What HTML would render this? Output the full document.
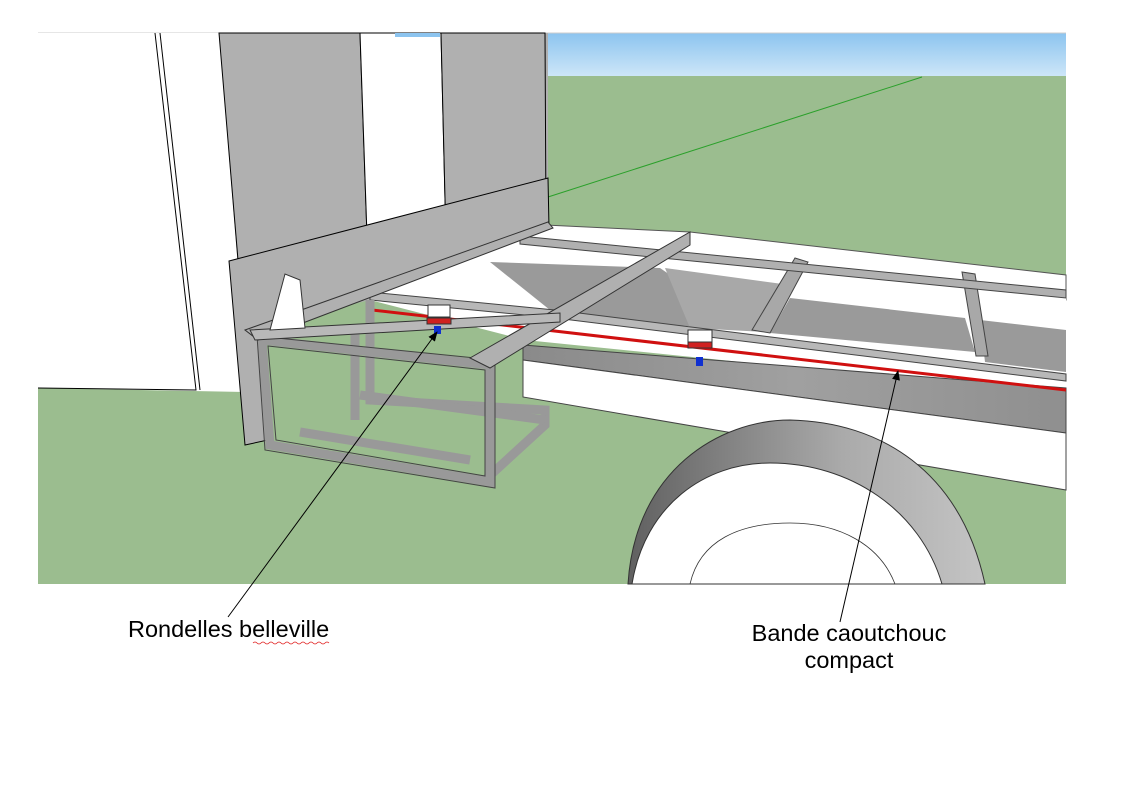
<!DOCTYPE html>
<html><head><meta charset="utf-8"><style>
html,body{margin:0;padding:0;background:#fff;width:1123px;height:794px;overflow:hidden}
svg{position:absolute;left:0;top:0}
text{font-family:"Liberation Sans",Arial,sans-serif;font-size:23.5px;fill:#000}
</style></head><body>
<svg width="1123" height="794" viewBox="0 0 1123 794">
<defs>
<linearGradient id="sky" x1="0" y1="0" x2="0" y2="1"><stop offset="0" stop-color="#8cc4ef"/><stop offset="1" stop-color="#cde6f8"/></linearGradient>
<linearGradient id="tire" x1="0" y1="0" x2="1" y2="0"><stop offset="0" stop-color="#606060"/><stop offset="0.6" stop-color="#aaaaaa"/><stop offset="1" stop-color="#c4c4c4"/></linearGradient>
<linearGradient id="beam" x1="0" y1="0" x2="1" y2="0"><stop offset="0" stop-color="#8a8a8a"/><stop offset="0.5" stop-color="#a0a0a0"/><stop offset="1" stop-color="#8f8f8f"/></linearGradient>
<marker id="ar" markerWidth="10" markerHeight="10" refX="9" refY="5" orient="auto" markerUnits="userSpaceOnUse"><path d="M0,1 L10,5 L0,9 Z" fill="#000"/></marker>
</defs>
<rect x="38" y="33" width="1028" height="551" fill="#9bbd8f"/>
<rect x="545" y="33" width="521" height="43" fill="url(#sky)"/>
<line x1="38" y1="33" x2="1066" y2="33" stroke="#ccc"/>
<line x1="548" y1="197" x2="922" y2="77" stroke="#2aa02a" stroke-width="1"/>
<!-- cab white -->
<polygon points="38,33 230,33 245,392 38,388" fill="#fff"/>
<polyline points="155,33 196,390 38,388" fill="none" stroke="#000"/>
<line x1="160" y1="33" x2="200" y2="390" stroke="#000"/>
<!-- backing fill -->
<polygon points="219,33 548,33 548,240 370,300 243,330" fill="#b0b0b0"/>
<polygon points="219,33 360,33 368,265 243,320" fill="#b0b0b0" stroke="#000"/>
<polygon points="360,33 441,33 446,240 368,265" fill="#fff" stroke="#000"/>
<polygon points="441,33 545,33 546,220 446,240" fill="#b0b0b0" stroke="#000"/>
<rect x="395" y="33" width="45" height="4" fill="#8cc4ef"/>
<polygon points="229,261 548,178 549,228 265,335 268,440 245,445" fill="#b0b0b0" stroke="#000"/>
<!-- chassis right area -->
<polygon points="545,225 690,232 1066,275 1066,300 548,240" fill="#fff" stroke="#555"/>
<polygon points="548,228 1066,290 1066,395 525,340 370,300 370,292" fill="#fff"/>
<polygon points="490,262 660,268 750,330 560,318" fill="#9a9a9a"/>
<polygon points="665,268 790,285 765,332 690,328" fill="#a8a8a8"/>
<polygon points="790,298 965,318 975,352 770,333" fill="#9a9a9a"/>
<polygon points="980,320 1066,330 1066,372 985,362" fill="#9a9a9a"/>
<polygon points="795,258 808,262 770,333 752,330" fill="#a8a8a8" stroke="#444"/>
<polygon points="962,272 975,274 988,356 976,356" fill="#a8a8a8" stroke="#444"/>
<polygon points="520,236 1066,290 1066,298 520,244" fill="#b0b0b0" stroke="#444"/>
<polygon points="370,292 555,310 1066,374 1066,381 555,318 370,300" fill="#b8b8b8" stroke="#444"/>
<!-- beam -->
<polygon points="523,345 1066,388 1066,433 523,360" fill="url(#beam)" stroke="#444"/>
<polygon points="523,360 1066,433 1066,490 523,397" fill="#fff" stroke="#444"/>
<line x1="372" y1="310" x2="1066" y2="390" stroke="#d01010" stroke-width="3"/>
<!-- wheel -->
<path d="M628,584 C635,470 720,420 790,420 C880,422 960,470 985,584 Z" fill="url(#tire)" stroke="#333"/>
<path d="M632,584 C645,505 705,463 770,463 C850,463 920,510 942,584 Z" fill="#fff" stroke="#333"/>
<path d="M690,584 C700,540 740,523 790,523 C840,523 880,545 895,584" fill="none" stroke="#333" stroke-width="0.8"/>
<!-- front box frame -->
<g fill="none" stroke="#999" stroke-width="9">
<polygon points="262,340 490,365 490,482 270,445"/>
<polyline points="370,300 370,400 545,410 545,425 485,480"/>
<line x1="355" y1="330" x2="355" y2="420"/>
<line x1="300" y1="432" x2="470" y2="460"/>
<line x1="360" y1="395" x2="545" y2="420"/>
</g>
<g fill="none" stroke="#444" stroke-width="1">
<polygon points="257,336 495,360 495,488 265,450"/>
<polygon points="268,346 485,370 485,476 276,440"/>
</g>
<polygon points="245,330 548,222 553,228 258,340" fill="#b0b0b0" stroke="#333"/>
<polygon points="470,358 690,232 690,245 490,368" fill="#b0b0b0" stroke="#333"/>
<polygon points="250,330 560,313 560,322 255,340" fill="#b8b8b8" stroke="#333"/>
<polygon points="270,330 285,274 300,280 305,328" fill="#fff" stroke="#333"/>
<g stroke="#333">
<rect x="428" y="305" width="22" height="12" fill="#fff"/>
<rect x="427" y="318" width="24" height="6" fill="#d02020"/>
<rect x="434" y="326" width="7" height="8" fill="#1030d0" stroke="none"/>
<rect x="688" y="330" width="24" height="12" fill="#fff"/>
<rect x="688" y="342" width="24" height="6" fill="#d02020"/>
<rect x="696" y="357" width="7" height="9" fill="#1030d0" stroke="none"/>
</g>
<line x1="228" y1="617" x2="437" y2="332" stroke="#000" marker-end="url(#ar)"/>
<line x1="840" y1="622" x2="898" y2="371" stroke="#000" marker-end="url(#ar)"/>
<text x="128" y="637">Rondelles belleville</text>
<path d="M253,643 q2,-2 4,0 t4,0 t4,0 t4,0 t4,0 t4,0 t4,0 t4,0 t4,0 t4,0 t4,0 t4,0 t4,0 t4,0 t4,0 t4,0 t4,0 t4,0 t4,0" fill="none" stroke="#e02020" stroke-width="0.8"/>
<text x="849" y="641" text-anchor="middle">Bande caoutchouc</text>
<text x="849" y="668" text-anchor="middle">compact</text>
</svg>
</body></html>
